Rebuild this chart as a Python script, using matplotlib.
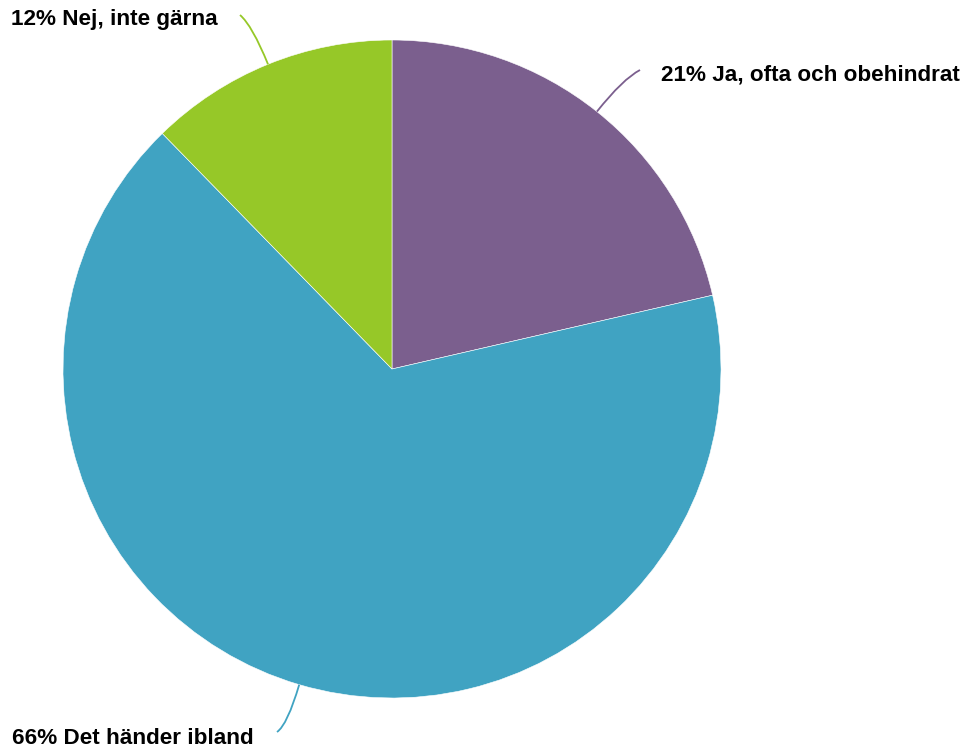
import numpy as np
import matplotlib.pyplot as plt
from matplotlib.path import Path
from matplotlib.patches import PathPatch

# values (clockwise from 12 o'clock)
labels = ["Ja, ofta och obehindrat", "Det händer ibland", "Nej, inte gärna"]
shares = [21.4, 66.3, 12.3]
colors = ["#7b5f8e", "#40a3c2", "#96c828"]

W, H = 972, 751
cx, cy, R = 392, H - 369, 329

# where each label sits (pixels) and how it is aligned
label_pos = [(661, H - 75), (12, H - 738), (218, H - 20)]
label_ha = ["left", "left", "right"]
leader_end = [(640, H - 70), (277, H - 732), (240, H - 15)]

fig = plt.figure(figsize=(W / 100, H / 100), dpi=100)
ax = fig.add_axes([0, 0, 1, 1])

wedges, _ = ax.pie(shares, colors=colors, startangle=90, counterclock=False,
                   center=(cx, cy), radius=R,
                   wedgeprops=dict(edgecolor="white", linewidth=0.4))

# pie() resets the limits, so set the pixel frame afterwards
ax.set_xlim(0, W)
ax.set_ylim(0, H)
ax.set_aspect("equal")
ax.axis("off")

for w, lab, share, col, pos, ha, end in zip(wedges, labels, shares, colors,
                                             label_pos, label_ha, leader_end):
    mid = np.deg2rad((w.theta1 + w.theta2) / 2)
    start = (cx + R * np.cos(mid), cy + R * np.sin(mid))
    ctrl = (cx + (R + 42) * np.cos(mid), cy + (R + 42) * np.sin(mid))
    path = Path([start, ctrl, end], [Path.MOVETO, Path.CURVE3, Path.CURVE3])
    ax.add_patch(PathPatch(path, facecolor="none", edgecolor=col, lw=1.3))
    ax.text(pos[0], pos[1], f"{round(share)}% {lab}", ha=ha, va="center",
            fontsize=16.2, fontweight="bold", family="Liberation Sans")

fig.savefig("out.png", dpi=100)
